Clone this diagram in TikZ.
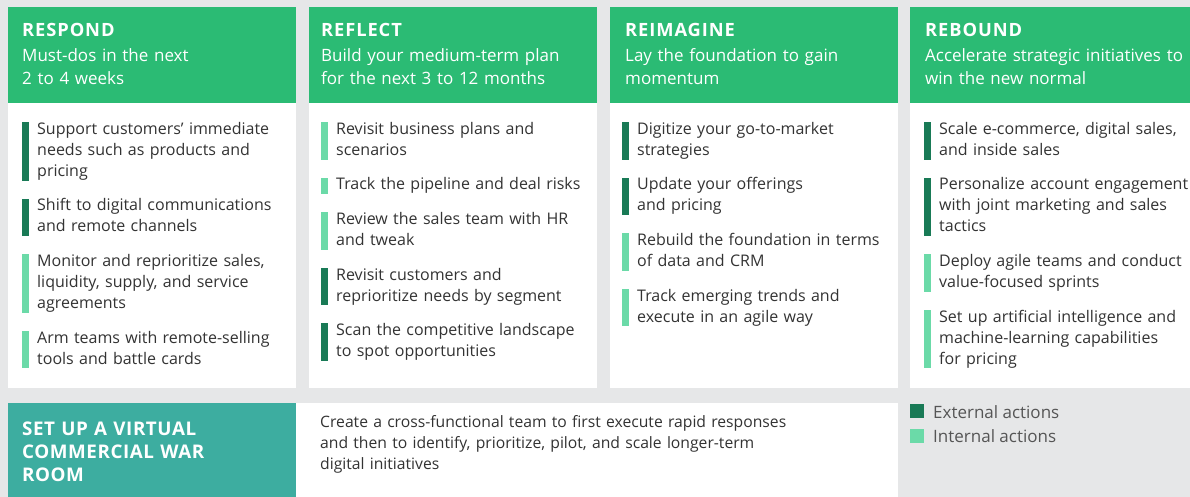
\documentclass[tikz,border=0pt]{standalone}
\usepackage{fontspec}
\setmainfont{Open Sans}
\definecolor{bggray}{HTML}{E6E7E8}
\definecolor{hdrgreen}{HTML}{2BBB74}
\definecolor{extgreen}{HTML}{197A56}
\definecolor{intgreen}{HTML}{6BDAA8}
\definecolor{warteal}{HTML}{3DADA0}
\definecolor{bodytext}{HTML}{333333}
\definecolor{legtext}{HTML}{555555}
% strut: 11.5pt above the baseline, 4pt below
\newcommand\istrut{\rule[-4pt]{0pt}{15.5pt}}
% coloured bar to the left of an action item
\newcommand\actionbar[2]{\fill[#1] ([xshift=-15pt]#2.north west) rectangle ([xshift=-8pt]#2.south west);}
\tikzset{
  hdtitle/.style={anchor=base west, inner sep=0pt, text=white,
    font=\fontsize{18.3}{22}\selectfont\bfseries\addfontfeatures{LetterSpace=5}},
  hdsub/.style={anchor=base west, inner sep=0pt, text=white, text width=280pt, align=left,
    font=\fontsize{17}{23}\selectfont},
  item/.style={anchor=north west, inner sep=0pt, text=bodytext, text width=255pt, align=left,
    font=\fontsize{16}{21}\selectfont, execute at begin node=\istrut, execute at end node=\istrut},
  legsq/.style={minimum size=14pt, inner sep=0pt, draw=none},
  legtxt/.style={anchor=base west, inner sep=0pt, text=legtext, font=\fontsize{17}{20}\selectfont},
}
\begin{document}
\begin{tikzpicture}[x=1pt,y=-1pt]
\useasboundingbox (0,0) rectangle (1190,497);
\fill[bggray] (0,0) rectangle (1190,497);
% column headers
\fill[hdrgreen] (8,7) rectangle (296,103);
\fill[hdrgreen] (309,7) rectangle (597,103);
\fill[hdrgreen] (610,7) rectangle (898,103);
\fill[hdrgreen] (910,7) rectangle (1190,103);
% column bodies
\fill[white] (8,103) rectangle (296,388);
\fill[white] (309,103) rectangle (597,388);
\fill[white] (610,103) rectangle (898,388);
\fill[white] (910,103) rectangle (1190,388);
% war room row
\fill[warteal] (8,403) rectangle (296,497);
\fill[white] (296,403) rectangle (898,497);

% header texts
\node[hdtitle] (t1) at (22,36.5) {RESPOND};
\node[hdsub] (s1) at (22,62) {Must-dos in the next\\2 to 4 weeks};
\node[hdtitle] (t2) at (321,36.5) {REFLECT};
\node[hdsub] (s2) at (321,62) {Build your medium-term plan\\for the next 3 to 12 months};
\node[hdtitle] (t3) at (625,36.5) {REIMAGINE};
\node[hdsub] (s3) at (625,62) {Lay the foundation to gain\\momentum};
\node[hdtitle] (t4) at (925,36.5) {REBOUND};
\node[hdsub] (s4) at (925,62) {Accelerate strategic initiatives to\\win the new normal};

% RESPOND actions
\node[item] (a1) at (37,122) {Support customers’ immediate\\needs such as products and\\pricing};
\node[item] (a2) at ([yshift=-18pt]a1.south west) {Shift to digital communications\\and remote channels};
\node[item] (a3) at ([yshift=-18pt]a2.south west) {Monitor and reprioritize sales,\\liquidity, supply, and service\\agreements};
\node[item] (a4) at ([yshift=-18pt]a3.south west) {Arm teams with remote-selling\\tools and battle cards};
\actionbar{extgreen}{a1}
\actionbar{extgreen}{a2}
\actionbar{intgreen}{a3}
\actionbar{intgreen}{a4}

% REFLECT actions
\node[item] (b1) at (336,122) {Revisit business plans and\\scenarios};
\node[item] (b2) at ([yshift=-18pt]b1.south west) {Track the pipeline and deal risks};
\node[item] (b3) at ([yshift=-18pt]b2.south west) {Review the sales team with HR\\and tweak};
\node[item] (b4) at ([yshift=-18pt]b3.south west) {Revisit customers and\\reprioritize needs by segment};
\node[item] (b5) at ([yshift=-18pt]b4.south west) {Scan the competitive landscape\\to spot opportunities};
\actionbar{intgreen}{b1}
\actionbar{intgreen}{b2}
\actionbar{intgreen}{b3}
\actionbar{extgreen}{b4}
\actionbar{extgreen}{b5}

% REIMAGINE actions
\node[item] (c1) at (637,122) {Digitize your go-to-market\\strategies};
\node[item] (c2) at ([yshift=-18pt]c1.south west) {Update your offerings\\and pricing};
\node[item] (c3) at ([yshift=-18pt]c2.south west) {Rebuild the foundation in terms\\of data and CRM};
\node[item] (c4) at ([yshift=-18pt]c3.south west) {Track emerging trends and\\execute in an agile way};
\actionbar{extgreen}{c1}
\actionbar{extgreen}{c2}
\actionbar{intgreen}{c3}
\actionbar{intgreen}{c4}

% REBOUND actions
\node[item] (d1) at (939,122) {Scale e-commerce, digital sales,\\and inside sales};
\node[item] (d2) at ([yshift=-18pt]d1.south west) {Personalize account engagement\\with joint marketing and sales\\tactics};
\node[item] (d3) at ([yshift=-18pt]d2.south west) {Deploy agile teams and conduct\\value-focused sprints};
\node[item] (d4) at ([yshift=-18pt]d3.south west) {Set up artificial intelligence and\\machine-learning capabilities\\for pricing};
\actionbar{extgreen}{d1}
\actionbar{extgreen}{d2}
\actionbar{intgreen}{d3}
\actionbar{intgreen}{d4}

% war room
\node[anchor=base west, inner sep=0pt, text=white, text width=265pt, align=left,
  font=\fontsize{18.8}{23.3}\selectfont\bfseries\addfontfeatures{LetterSpace=3}] (war) at (22,435) {SET UP A VIRTUAL\\COMMERCIAL WAR\\ROOM};
\node[anchor=base west, inner sep=0pt, text=bodytext, text width=560pt, align=left,
  font=\fontsize{15.7}{21}\selectfont] (wardesc) at (320,427.5) {Create a cross-functional team to first execute rapid responses\\and then to identify, prioritize, pilot, and scale longer-term\\digital initiatives};

% legend
\node[legsq, fill=extgreen] (lext) at (917,411) {};
\node[legsq, fill=intgreen] (lint) at (917,435.5) {};
\node[legtxt] (lextt) at (933,418) {External actions};
\node[legtxt] (lintt) at (933,442.5) {Internal actions};
\end{tikzpicture}
\end{document}
